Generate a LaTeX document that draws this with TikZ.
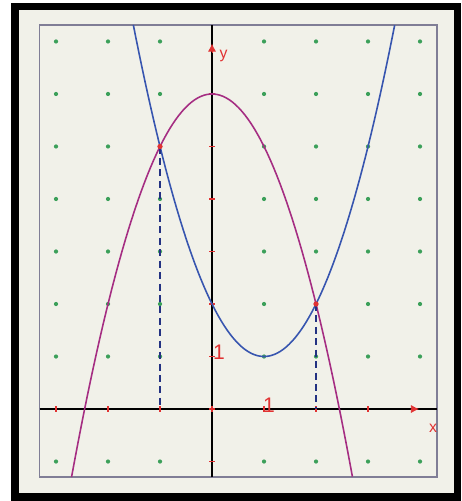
\documentclass[tikz,border=0pt]{standalone}
\usepackage{fontspec}
\setsansfont{Liberation Sans}
\usetikzlibrary{arrows.meta}
\definecolor{paper}{RGB}{241,241,233}
\definecolor{plotframe}{RGB}{128,126,150}
\definecolor{bluecurve}{RGB}{55,85,175}
\definecolor{purplecurve}{RGB}{165,45,130}
\definecolor{dashblue}{RGB}{35,50,130}
\definecolor{gridgreen}{RGB}{60,160,90}
\definecolor{markred}{RGB}{225,50,50}

\begin{document}
\begin{tikzpicture}[x=1.04cm, y=1.05cm, every node/.style={font=\sffamily\small, text=markred}, >={Latex[length=1.6mm, width=1.6mm]}]
	\useasboundingbox (-4.077,-1.752) rectangle (4.788,7.790);
	\fill[black] (-3.865,-1.752) rectangle (4.788,7.733);
	\fill[paper] (-3.712,-1.6) rectangle (4.654,7.6);
	\draw[plotframe, line width=0.8pt] (-3.317,-1.295) rectangle (4.327,7.314);
	% grid points
	\foreach \i in {-3,...,4} {
		\foreach \j in {-1,...,7} {
			\ifnum\i=0 \else \ifnum\j=0 \else
				\fill[gridgreen] (\i,\j) circle (1.2pt);
			\fi\fi
		}
	}
	% axes
	\draw[line width=0.9pt] (-3.317,0) -- (4.327,0);
	\draw[line width=0.9pt] (0,-1.295) -- (0,7.314);
	\foreach \k in {-3,...,3} \draw[markred, line width=1pt] (\k,-0.05) -- (\k,0.05);
	\foreach \k in {-1,...,6} \draw[markred, line width=1pt] (-0.05,\k) -- (0.05,\k);
	\draw[markred, ->] (3.82,0) -- (3.98,0);
	\draw[markred, ->] (0,6.78) -- (0,6.96);
	\node (xlab) at (4.25,-0.37) {x};
	\node (ylab) at (0.22,6.72) {y};
	\node[font=\sffamily\large] (yone) at (0.135,1.076) {1};
	\node[font=\sffamily\large] (xone) at (1.096,0.076) {1};
	% curves
	\draw[purplecurve, line width=0.9pt, domain=-2.701:2.701, samples=90] plot (\x,{6-\x*\x});
	\draw[bluecurve, line width=0.9pt, domain=-1.513:3.513, samples=90] plot (\x,{(\x-1)*(\x-1)+1});
	% intersections
	\coordinate (pA) at (-1,5);
	\coordinate (pB) at (2,2);
	\coordinate (fA) at (-1,0);
	\coordinate (fB) at (2,0);
	\draw[dashblue, line width=0.9pt, dash pattern=on 4pt off 2.5pt] (pA) -- (fA);
	\draw[dashblue, line width=0.9pt, dash pattern=on 4pt off 2.5pt] (pB) -- (fB);
	\fill[markred] (pA) circle (1.5pt);
	\fill[markred] (pB) circle (1.5pt);
\end{tikzpicture}
\end{document}
